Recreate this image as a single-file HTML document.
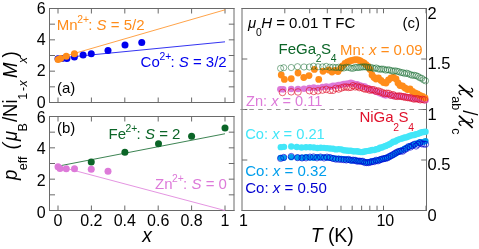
<!DOCTYPE html>
<html><head><meta charset="utf-8"><title>fig</title>
<style>html,body{margin:0;padding:0;background:#fff;}svg{display:block;will-change:transform;}text{font-family:"Liberation Sans",sans-serif;}</style>
</head><body>
<svg width="479" height="249" viewBox="0 0 479 249">
<rect x="0" y="0" width="479" height="249" fill="#fff"/>
<line x1="49.50" y1="8.00" x2="49.50" y2="103.00" stroke="#6a6a6a" stroke-width="1"/>
<line x1="234.00" y1="8.00" x2="234.00" y2="103.00" stroke="#6a6a6a" stroke-width="1"/>
<line x1="49.00" y1="8.50" x2="234.50" y2="8.50" stroke="#6a6a6a" stroke-width="1"/>
<line x1="49.00" y1="102.50" x2="234.50" y2="102.50" stroke="#6a6a6a" stroke-width="1"/>
<line x1="58.00" y1="8.50" x2="58.00" y2="13.50" stroke="#6a6a6a" stroke-width="1"/>
<line x1="58.00" y1="102.50" x2="58.00" y2="97.50" stroke="#6a6a6a" stroke-width="1"/>
<line x1="91.40" y1="8.50" x2="91.40" y2="13.50" stroke="#6a6a6a" stroke-width="1"/>
<line x1="91.40" y1="102.50" x2="91.40" y2="97.50" stroke="#6a6a6a" stroke-width="1"/>
<line x1="124.80" y1="8.50" x2="124.80" y2="13.50" stroke="#6a6a6a" stroke-width="1"/>
<line x1="124.80" y1="102.50" x2="124.80" y2="97.50" stroke="#6a6a6a" stroke-width="1"/>
<line x1="158.20" y1="8.50" x2="158.20" y2="13.50" stroke="#6a6a6a" stroke-width="1"/>
<line x1="158.20" y1="102.50" x2="158.20" y2="97.50" stroke="#6a6a6a" stroke-width="1"/>
<line x1="191.60" y1="8.50" x2="191.60" y2="13.50" stroke="#6a6a6a" stroke-width="1"/>
<line x1="191.60" y1="102.50" x2="191.60" y2="97.50" stroke="#6a6a6a" stroke-width="1"/>
<line x1="225.00" y1="8.50" x2="225.00" y2="13.50" stroke="#6a6a6a" stroke-width="1"/>
<line x1="225.00" y1="102.50" x2="225.00" y2="97.50" stroke="#6a6a6a" stroke-width="1"/>
<line x1="49.50" y1="86.83" x2="55.00" y2="86.83" stroke="#6a6a6a" stroke-width="1"/>
<line x1="234.20" y1="86.83" x2="228.80" y2="86.83" stroke="#6a6a6a" stroke-width="1"/>
<line x1="49.50" y1="71.17" x2="55.00" y2="71.17" stroke="#6a6a6a" stroke-width="1"/>
<line x1="234.20" y1="71.17" x2="228.80" y2="71.17" stroke="#6a6a6a" stroke-width="1"/>
<line x1="49.50" y1="55.50" x2="55.00" y2="55.50" stroke="#6a6a6a" stroke-width="1"/>
<line x1="234.20" y1="55.50" x2="228.80" y2="55.50" stroke="#6a6a6a" stroke-width="1"/>
<line x1="49.50" y1="39.83" x2="55.00" y2="39.83" stroke="#6a6a6a" stroke-width="1"/>
<line x1="234.20" y1="39.83" x2="228.80" y2="39.83" stroke="#6a6a6a" stroke-width="1"/>
<line x1="49.50" y1="24.17" x2="55.00" y2="24.17" stroke="#6a6a6a" stroke-width="1"/>
<line x1="234.20" y1="24.17" x2="228.80" y2="24.17" stroke="#6a6a6a" stroke-width="1"/>
<line x1="49.50" y1="116.00" x2="49.50" y2="211.00" stroke="#6a6a6a" stroke-width="1"/>
<line x1="234.00" y1="116.00" x2="234.00" y2="211.00" stroke="#6a6a6a" stroke-width="1"/>
<line x1="49.00" y1="116.50" x2="234.50" y2="116.50" stroke="#6a6a6a" stroke-width="1"/>
<line x1="49.00" y1="210.50" x2="234.50" y2="210.50" stroke="#6a6a6a" stroke-width="1"/>
<line x1="58.00" y1="116.50" x2="58.00" y2="121.50" stroke="#6a6a6a" stroke-width="1"/>
<line x1="58.00" y1="210.50" x2="58.00" y2="205.50" stroke="#6a6a6a" stroke-width="1"/>
<line x1="91.40" y1="116.50" x2="91.40" y2="121.50" stroke="#6a6a6a" stroke-width="1"/>
<line x1="91.40" y1="210.50" x2="91.40" y2="205.50" stroke="#6a6a6a" stroke-width="1"/>
<line x1="124.80" y1="116.50" x2="124.80" y2="121.50" stroke="#6a6a6a" stroke-width="1"/>
<line x1="124.80" y1="210.50" x2="124.80" y2="205.50" stroke="#6a6a6a" stroke-width="1"/>
<line x1="158.20" y1="116.50" x2="158.20" y2="121.50" stroke="#6a6a6a" stroke-width="1"/>
<line x1="158.20" y1="210.50" x2="158.20" y2="205.50" stroke="#6a6a6a" stroke-width="1"/>
<line x1="191.60" y1="116.50" x2="191.60" y2="121.50" stroke="#6a6a6a" stroke-width="1"/>
<line x1="191.60" y1="210.50" x2="191.60" y2="205.50" stroke="#6a6a6a" stroke-width="1"/>
<line x1="225.00" y1="116.50" x2="225.00" y2="121.50" stroke="#6a6a6a" stroke-width="1"/>
<line x1="225.00" y1="210.50" x2="225.00" y2="205.50" stroke="#6a6a6a" stroke-width="1"/>
<line x1="49.50" y1="194.83" x2="55.00" y2="194.83" stroke="#6a6a6a" stroke-width="1"/>
<line x1="234.20" y1="194.83" x2="228.80" y2="194.83" stroke="#6a6a6a" stroke-width="1"/>
<line x1="49.50" y1="179.17" x2="55.00" y2="179.17" stroke="#6a6a6a" stroke-width="1"/>
<line x1="234.20" y1="179.17" x2="228.80" y2="179.17" stroke="#6a6a6a" stroke-width="1"/>
<line x1="49.50" y1="163.50" x2="55.00" y2="163.50" stroke="#6a6a6a" stroke-width="1"/>
<line x1="234.20" y1="163.50" x2="228.80" y2="163.50" stroke="#6a6a6a" stroke-width="1"/>
<line x1="49.50" y1="147.83" x2="55.00" y2="147.83" stroke="#6a6a6a" stroke-width="1"/>
<line x1="234.20" y1="147.83" x2="228.80" y2="147.83" stroke="#6a6a6a" stroke-width="1"/>
<line x1="49.50" y1="132.17" x2="55.00" y2="132.17" stroke="#6a6a6a" stroke-width="1"/>
<line x1="234.20" y1="132.17" x2="228.80" y2="132.17" stroke="#6a6a6a" stroke-width="1"/>
<text x="45.7" y="107.6" font-size="16" fill="#000" text-anchor="end" >0</text>
<text x="45.7" y="76.26666666666667" font-size="16" fill="#000" text-anchor="end" >2</text>
<text x="45.7" y="44.93333333333334" font-size="16" fill="#000" text-anchor="end" >4</text>
<text x="45.7" y="13.6" font-size="16" fill="#000" text-anchor="end" >6</text>
<text x="45.7" y="217.9" font-size="16" fill="#000" text-anchor="end" >0</text>
<text x="45.7" y="185.96666666666664" font-size="16" fill="#000" text-anchor="end" >2</text>
<text x="45.7" y="153.93333333333334" font-size="16" fill="#000" text-anchor="end" >4</text>
<text x="45.7" y="122.6" font-size="16" fill="#000" text-anchor="end" >6</text>
<text x="58.0" y="226" font-size="16" fill="#000" text-anchor="middle" >0</text>
<text x="91.4" y="226" font-size="16" fill="#000" text-anchor="middle" >0.2</text>
<text x="124.8" y="226" font-size="16" fill="#000" text-anchor="middle" >0.4</text>
<text x="158.20000000000002" y="226" font-size="16" fill="#000" text-anchor="middle" >0.6</text>
<text x="191.6" y="226" font-size="16" fill="#000" text-anchor="middle" >0.8</text>
<text x="225.0" y="226" font-size="16" fill="#000" text-anchor="middle" >1</text>
<text x="147.1" y="242.1" font-size="19.3" fill="#000" text-anchor="middle" font-style="italic">x</text>
<line x1="58.00" y1="58.16" x2="225.00" y2="9.82" stroke="#FF8C1A" stroke-width="0.8"/>
<line x1="58.00" y1="58.16" x2="225.00" y2="41.82" stroke="#0000EE" stroke-width="0.8"/>
<line x1="58.00" y1="166.16" x2="225.00" y2="133.75" stroke="#0B6527" stroke-width="0.8"/>
<line x1="58.00" y1="166.16" x2="225.00" y2="210.50" stroke="#DD7AD9" stroke-width="0.8"/>
<circle cx="58.00" cy="58.75" r="3.5" fill="#0000EE"/>
<circle cx="62.00" cy="58.60" r="3.5" fill="#0000EE"/>
<circle cx="66.90" cy="58.50" r="3.5" fill="#0000EE"/>
<circle cx="74.40" cy="56.90" r="3.5" fill="#0000EE"/>
<circle cx="83.10" cy="55.00" r="3.5" fill="#0000EE"/>
<circle cx="91.25" cy="53.75" r="3.5" fill="#0000EE"/>
<circle cx="108.00" cy="50.50" r="3.5" fill="#0000EE"/>
<circle cx="125.00" cy="45.00" r="3.5" fill="#0000EE"/>
<circle cx="141.75" cy="42.50" r="3.5" fill="#0000EE"/>
<circle cx="58.10" cy="59.40" r="3.5" fill="#FF8C1A"/>
<circle cx="60.60" cy="58.50" r="3.5" fill="#FF8C1A"/>
<circle cx="66.25" cy="56.25" r="3.5" fill="#FF8C1A"/>
<circle cx="74.40" cy="53.75" r="3.5" fill="#FF8C1A"/>
<circle cx="91.25" cy="162.00" r="3.5" fill="#0B6527"/>
<circle cx="124.90" cy="152.20" r="3.5" fill="#0B6527"/>
<circle cx="158.50" cy="143.80" r="3.5" fill="#0B6527"/>
<circle cx="191.60" cy="136.20" r="3.5" fill="#0B6527"/>
<circle cx="225.00" cy="127.90" r="3.5" fill="#0B6527"/>
<circle cx="58.00" cy="166.75" r="3.5" fill="#DD7AD9"/>
<circle cx="60.00" cy="168.50" r="3.5" fill="#DD7AD9"/>
<circle cx="66.25" cy="168.75" r="3.5" fill="#DD7AD9"/>
<circle cx="74.50" cy="168.75" r="3.5" fill="#DD7AD9"/>
<circle cx="91.25" cy="169.25" r="3.5" fill="#DD7AD9"/>
<circle cx="108.00" cy="171.25" r="3.5" fill="#DD7AD9"/>
<text x="56.8" y="30" font-size="15" fill="#FF8C1A" xml:space="preserve"><tspan>Mn</tspan><tspan dy="-7" dx="-0.4" font-size="10.35">2+</tspan><tspan dy="7" dx="-0.8" font-size="1">&#8203;</tspan><tspan>: </tspan><tspan font-style="italic">S</tspan><tspan> = 5/2</tspan></text>
<text x="140.6" y="67" font-size="15" fill="#0000EE" xml:space="preserve"><tspan>Co</tspan><tspan dy="-7" dx="-0.4" font-size="10.35">2+</tspan><tspan dy="7" dx="-0.8" font-size="1">&#8203;</tspan><tspan>: </tspan><tspan font-style="italic">S</tspan><tspan> = 3/2</tspan></text>
<text x="108.5" y="139.4" font-size="15" fill="#0B6527" xml:space="preserve"><tspan>Fe</tspan><tspan dy="-7" dx="-0.4" font-size="10.35">2+</tspan><tspan dy="7" dx="-0.8" font-size="1">&#8203;</tspan><tspan>: </tspan><tspan font-style="italic">S</tspan><tspan> = 2</tspan></text>
<text x="155" y="189.2" font-size="15" fill="#DD7AD9" xml:space="preserve"><tspan>Zn</tspan><tspan dy="-7" dx="-0.4" font-size="10.35">2+</tspan><tspan dy="7" dx="-0.8" font-size="1">&#8203;</tspan><tspan>: </tspan><tspan font-style="italic">S</tspan><tspan> = 0</tspan></text>
<text x="57" y="92.5" font-size="15" fill="#000" text-anchor="start" >(a)</text>
<text x="57" y="133" font-size="15" fill="#000" text-anchor="start" >(b)</text>
<g transform="translate(16.6,181) rotate(-90)"><text transform="translate(0.89,0) scale(0.96,1)" font-size="19.3" font-style="italic">p</text><text transform="translate(10.75,10.2) scale(1.0,1)" font-size="12.5">eff</text><text transform="translate(31.70,0) scale(0.96,1)" font-size="19.3" font-style="italic">(</text><text transform="translate(40.02,0) scale(0.96,1)" font-size="19.3" font-style="italic">μ</text><text transform="translate(49.58,10.2) scale(1.0,1)" font-size="12.5">B</text><text transform="translate(58.98,0) scale(0.96,1)" font-size="19.3">/</text><text transform="translate(63.93,0) scale(0.96,1)" font-size="19.3">N</text><text transform="translate(77.44,0) scale(0.96,1)" font-size="19.3">i</text><text transform="translate(81.35,10.2) scale(1.0,1)" font-size="12.5">1</text><text transform="translate(89.92,10.2) scale(1.0,1)" font-size="12.5">-</text><text transform="translate(94.45,10.2) scale(1.0,1)" font-size="12.5" font-style="italic">x</text><text transform="translate(103.01,0) scale(0.96,1)" font-size="19.3" font-style="italic">M</text><text transform="translate(117.70,10.2) scale(1.0,1)" font-size="12.5" font-style="italic">x</text><text transform="translate(123.46,0) scale(0.96,1)" font-size="19.3">)</text></g>
<line x1="242.00" y1="8.00" x2="242.00" y2="211.00" stroke="#6a6a6a" stroke-width="1"/>
<line x1="426.50" y1="8.00" x2="426.50" y2="211.00" stroke="#6a6a6a" stroke-width="1"/>
<line x1="241.50" y1="8.50" x2="427.00" y2="8.50" stroke="#6a6a6a" stroke-width="1"/>
<line x1="241.50" y1="210.50" x2="427.00" y2="210.50" stroke="#6a6a6a" stroke-width="1"/>
<line x1="284.81" y1="8.50" x2="284.81" y2="13.30" stroke="#6a6a6a" stroke-width="1"/>
<line x1="284.81" y1="210.50" x2="284.81" y2="205.70" stroke="#6a6a6a" stroke-width="1"/>
<line x1="309.67" y1="8.50" x2="309.67" y2="13.30" stroke="#6a6a6a" stroke-width="1"/>
<line x1="309.67" y1="210.50" x2="309.67" y2="205.70" stroke="#6a6a6a" stroke-width="1"/>
<line x1="327.31" y1="8.50" x2="327.31" y2="13.30" stroke="#6a6a6a" stroke-width="1"/>
<line x1="327.31" y1="210.50" x2="327.31" y2="205.70" stroke="#6a6a6a" stroke-width="1"/>
<line x1="340.99" y1="8.50" x2="340.99" y2="13.30" stroke="#6a6a6a" stroke-width="1"/>
<line x1="340.99" y1="210.50" x2="340.99" y2="205.70" stroke="#6a6a6a" stroke-width="1"/>
<line x1="352.17" y1="8.50" x2="352.17" y2="13.30" stroke="#6a6a6a" stroke-width="1"/>
<line x1="352.17" y1="210.50" x2="352.17" y2="205.70" stroke="#6a6a6a" stroke-width="1"/>
<line x1="361.63" y1="8.50" x2="361.63" y2="13.30" stroke="#6a6a6a" stroke-width="1"/>
<line x1="361.63" y1="210.50" x2="361.63" y2="205.70" stroke="#6a6a6a" stroke-width="1"/>
<line x1="369.82" y1="8.50" x2="369.82" y2="13.30" stroke="#6a6a6a" stroke-width="1"/>
<line x1="369.82" y1="210.50" x2="369.82" y2="205.70" stroke="#6a6a6a" stroke-width="1"/>
<line x1="377.04" y1="8.50" x2="377.04" y2="13.30" stroke="#6a6a6a" stroke-width="1"/>
<line x1="377.04" y1="210.50" x2="377.04" y2="205.70" stroke="#6a6a6a" stroke-width="1"/>
<line x1="426.01" y1="8.50" x2="426.01" y2="13.30" stroke="#6a6a6a" stroke-width="1"/>
<line x1="426.01" y1="210.50" x2="426.01" y2="205.70" stroke="#6a6a6a" stroke-width="1"/>
<line x1="383.50" y1="8.50" x2="383.50" y2="13.30" stroke="#6a6a6a" stroke-width="1"/>
<line x1="383.50" y1="210.50" x2="383.50" y2="205.70" stroke="#6a6a6a" stroke-width="1"/>
<line x1="242.00" y1="160.00" x2="247.30" y2="160.00" stroke="#6a6a6a" stroke-width="1"/>
<line x1="426.50" y1="160.00" x2="421.20" y2="160.00" stroke="#6a6a6a" stroke-width="1"/>
<line x1="242.00" y1="109.50" x2="247.30" y2="109.50" stroke="#6a6a6a" stroke-width="1"/>
<line x1="426.50" y1="109.50" x2="421.20" y2="109.50" stroke="#6a6a6a" stroke-width="1"/>
<line x1="242.00" y1="59.00" x2="247.30" y2="59.00" stroke="#6a6a6a" stroke-width="1"/>
<line x1="426.50" y1="59.00" x2="421.20" y2="59.00" stroke="#6a6a6a" stroke-width="1"/>
<line x1="240.4" y1="109.50" x2="426.5" y2="109.50" stroke="#8a8a8a" stroke-width="0.9" stroke-dasharray="4.5,4.4"/>
<text x="427.6" y="220.7" font-size="16.5" fill="#000" text-anchor="start" >0</text>
<text x="427.6" y="170.2" font-size="16.5" fill="#000" text-anchor="start" >0.5</text>
<text x="427.6" y="119.7" font-size="16.5" fill="#000" text-anchor="start" >1</text>
<text x="427.6" y="69.2" font-size="16.5" fill="#000" text-anchor="start" >1.5</text>
<text x="427.6" y="18.7" font-size="16.5" fill="#000" text-anchor="start" >2</text>
<text x="243.4" y="225.6" font-size="16" fill="#000" text-anchor="middle" >1</text>
<text x="385.3" y="225.6" font-size="16" fill="#000" text-anchor="middle" >10</text>
<text x="332.2" y="241.9" font-size="19.4" text-anchor="middle" xml:space="preserve"><tspan font-style="italic">T</tspan> (K)</text>
<g transform="translate(462.5,84.4) rotate(90)"><text transform="translate(11.92,10.1) scale(1.0,1)" font-size="12.5">ab</text><text transform="translate(25.75,0) scale(1.0,1)" font-size="19.3">/</text><text transform="translate(43.75,10.1) scale(1.0,1)" font-size="12.5">c</text></g>
<g transform="translate(0,0)" fill="none" stroke="#000" stroke-linecap="butt"><path d="M458.9,84.9 L472.6,97.1" stroke-width="1.7"/><path d="M471.1,88.0 C472.6,88.6 473.2,90.6 472.3,91.6 C471.4,92.6 470.2,92.3 468.9,91.8 C466.5,90.9 463.0,90.3 461.0,90.5 C459.0,90.8 458.6,92.2 459.4,93.4 C459.9,94.2 460.6,94.6 461.3,94.9" stroke-width="1.15"/></g>
<g transform="translate(0,30.7)" fill="none" stroke="#000" stroke-linecap="butt"><path d="M458.9,84.9 L472.6,97.1" stroke-width="1.7"/><path d="M471.1,88.0 C472.6,88.6 473.2,90.6 472.3,91.6 C471.4,92.6 470.2,92.3 468.9,91.8 C466.5,90.9 463.0,90.3 461.0,90.5 C459.0,90.8 458.6,92.2 459.4,93.4 C459.9,94.2 460.6,94.6 461.3,94.9" stroke-width="1.15"/></g>
<circle cx="280.40" cy="89.18" r="3.3" fill="#DD7AD9"/>
<circle cx="283.20" cy="89.36" r="3.3" fill="#DD7AD9"/>
<circle cx="291.25" cy="89.01" r="3.3" fill="#DD7AD9"/>
<circle cx="298.00" cy="89.03" r="3.3" fill="#DD7AD9"/>
<circle cx="304.00" cy="88.74" r="3.3" fill="#DD7AD9"/>
<circle cx="309.40" cy="87.94" r="3.3" fill="#DD7AD9"/>
<circle cx="313.75" cy="87.62" r="3.3" fill="#DD7AD9"/>
<circle cx="318.00" cy="88.00" r="3.3" fill="#DD7AD9"/>
<circle cx="322.50" cy="87.08" r="3.3" fill="#DD7AD9"/>
<circle cx="326.25" cy="86.57" r="3.3" fill="#DD7AD9"/>
<circle cx="330.00" cy="86.70" r="3.3" fill="#DD7AD9"/>
<circle cx="333.00" cy="85.89" r="3.3" fill="#DD7AD9"/>
<circle cx="335.88" cy="85.80" r="3.3" fill="#DD7AD9"/>
<circle cx="338.64" cy="85.16" r="3.3" fill="#DD7AD9"/>
<circle cx="341.30" cy="84.85" r="3.3" fill="#DD7AD9"/>
<circle cx="343.85" cy="83.95" r="3.3" fill="#DD7AD9"/>
<circle cx="346.29" cy="83.85" r="3.3" fill="#DD7AD9"/>
<circle cx="348.64" cy="83.57" r="3.3" fill="#DD7AD9"/>
<circle cx="350.90" cy="82.84" r="3.3" fill="#DD7AD9"/>
<circle cx="353.06" cy="83.61" r="3.3" fill="#DD7AD9"/>
<circle cx="355.14" cy="84.18" r="3.3" fill="#DD7AD9"/>
<circle cx="357.13" cy="84.29" r="3.3" fill="#DD7AD9"/>
<circle cx="359.05" cy="85.42" r="3.3" fill="#DD7AD9"/>
<circle cx="360.95" cy="85.86" r="3.3" fill="#DD7AD9"/>
<circle cx="362.85" cy="86.20" r="3.3" fill="#DD7AD9"/>
<circle cx="364.75" cy="86.55" r="3.3" fill="#DD7AD9"/>
<circle cx="366.65" cy="87.95" r="3.3" fill="#DD7AD9"/>
<circle cx="368.55" cy="88.40" r="3.3" fill="#DD7AD9"/>
<circle cx="370.45" cy="89.35" r="3.3" fill="#DD7AD9"/>
<circle cx="372.35" cy="90.24" r="3.3" fill="#DD7AD9"/>
<circle cx="374.25" cy="90.87" r="3.3" fill="#DD7AD9"/>
<circle cx="376.15" cy="91.80" r="3.3" fill="#DD7AD9"/>
<circle cx="378.05" cy="92.13" r="3.3" fill="#DD7AD9"/>
<circle cx="379.95" cy="93.22" r="3.3" fill="#DD7AD9"/>
<circle cx="381.85" cy="93.69" r="3.3" fill="#DD7AD9"/>
<circle cx="383.75" cy="94.85" r="3.3" fill="#DD7AD9"/>
<circle cx="385.65" cy="95.36" r="3.3" fill="#DD7AD9"/>
<circle cx="387.55" cy="94.91" r="3.3" fill="#DD7AD9"/>
<circle cx="389.45" cy="95.11" r="3.3" fill="#DD7AD9"/>
<circle cx="391.35" cy="95.35" r="3.3" fill="#DD7AD9"/>
<circle cx="393.25" cy="96.12" r="3.3" fill="#DD7AD9"/>
<circle cx="395.15" cy="95.87" r="3.3" fill="#DD7AD9"/>
<circle cx="397.05" cy="96.20" r="3.3" fill="#DD7AD9"/>
<circle cx="398.95" cy="96.11" r="3.3" fill="#DD7AD9"/>
<circle cx="400.85" cy="96.45" r="3.3" fill="#DD7AD9"/>
<circle cx="402.75" cy="96.52" r="3.3" fill="#DD7AD9"/>
<circle cx="404.65" cy="96.67" r="3.3" fill="#DD7AD9"/>
<circle cx="406.55" cy="97.03" r="3.3" fill="#DD7AD9"/>
<circle cx="408.45" cy="97.30" r="3.3" fill="#DD7AD9"/>
<circle cx="410.35" cy="97.85" r="3.3" fill="#DD7AD9"/>
<circle cx="412.25" cy="97.97" r="3.3" fill="#DD7AD9"/>
<circle cx="414.15" cy="98.47" r="3.3" fill="#DD7AD9"/>
<circle cx="416.05" cy="98.71" r="3.3" fill="#DD7AD9"/>
<circle cx="417.95" cy="99.12" r="3.3" fill="#DD7AD9"/>
<circle cx="419.85" cy="99.17" r="3.3" fill="#DD7AD9"/>
<circle cx="421.75" cy="99.06" r="3.3" fill="#DD7AD9"/>
<circle cx="423.65" cy="99.92" r="3.3" fill="#DD7AD9"/>
<circle cx="425.55" cy="100.30" r="3.3" fill="#DD7AD9"/>
<circle cx="281.25" cy="75.00" r="3.4" fill="#FF8C1A"/>
<circle cx="284.40" cy="79.40" r="3.4" fill="#FF8C1A"/>
<circle cx="291.25" cy="78.75" r="3.4" fill="#FF8C1A"/>
<circle cx="298.00" cy="73.00" r="3.4" fill="#FF8C1A"/>
<circle cx="303.75" cy="77.50" r="3.4" fill="#FF8C1A"/>
<circle cx="309.00" cy="75.60" r="3.4" fill="#FF8C1A"/>
<circle cx="314.40" cy="69.40" r="3.4" fill="#FF8C1A"/>
<circle cx="318.75" cy="79.40" r="3.4" fill="#FF8C1A"/>
<circle cx="323.00" cy="71.25" r="3.4" fill="#FF8C1A"/>
<circle cx="328.75" cy="70.00" r="3.4" fill="#FF8C1A"/>
<circle cx="332.00" cy="72.00" r="3.4" fill="#FF8C1A"/>
<circle cx="335.00" cy="70.50" r="3.4" fill="#FF8C1A"/>
<circle cx="338.00" cy="71.50" r="3.4" fill="#FF8C1A"/>
<circle cx="340.50" cy="68.50" r="3.4" fill="#FF8C1A"/>
<circle cx="342.50" cy="66.00" r="3.4" fill="#FF8C1A"/>
<circle cx="345.00" cy="63.50" r="3.4" fill="#FF8C1A"/>
<circle cx="347.50" cy="62.00" r="3.4" fill="#FF8C1A"/>
<circle cx="350.00" cy="61.00" r="3.4" fill="#FF8C1A"/>
<circle cx="352.00" cy="60.30" r="3.4" fill="#FF8C1A"/>
<circle cx="354.00" cy="59.90" r="3.4" fill="#FF8C1A"/>
<circle cx="356.00" cy="59.70" r="3.4" fill="#FF8C1A"/>
<circle cx="358.00" cy="60.00" r="3.4" fill="#FF8C1A"/>
<circle cx="360.00" cy="60.70" r="3.4" fill="#FF8C1A"/>
<circle cx="362.00" cy="61.80" r="3.4" fill="#FF8C1A"/>
<circle cx="364.00" cy="63.00" r="3.4" fill="#FF8C1A"/>
<circle cx="366.00" cy="64.60" r="3.4" fill="#FF8C1A"/>
<circle cx="368.00" cy="66.50" r="3.4" fill="#FF8C1A"/>
<circle cx="370.00" cy="69.50" r="3.4" fill="#FF8C1A"/>
<circle cx="372.00" cy="75.00" r="3.4" fill="#FF8C1A"/>
<circle cx="374.00" cy="77.50" r="3.4" fill="#FF8C1A"/>
<circle cx="376.00" cy="79.00" r="3.4" fill="#FF8C1A"/>
<circle cx="378.50" cy="78.00" r="3.4" fill="#FF8C1A"/>
<circle cx="381.00" cy="80.50" r="3.4" fill="#FF8C1A"/>
<circle cx="383.50" cy="82.50" r="3.4" fill="#FF8C1A"/>
<circle cx="386.00" cy="83.00" r="3.4" fill="#FF8C1A"/>
<circle cx="388.50" cy="80.00" r="3.4" fill="#FF8C1A"/>
<circle cx="391.00" cy="78.00" r="3.4" fill="#FF8C1A"/>
<circle cx="393.50" cy="77.50" r="3.4" fill="#FF8C1A"/>
<circle cx="396.00" cy="79.00" r="3.4" fill="#FF8C1A"/>
<circle cx="398.00" cy="83.00" r="3.4" fill="#FF8C1A"/>
<circle cx="400.00" cy="85.50" r="3.4" fill="#FF8C1A"/>
<circle cx="402.50" cy="86.00" r="3.4" fill="#FF8C1A"/>
<circle cx="405.00" cy="88.00" r="3.4" fill="#FF8C1A"/>
<circle cx="407.50" cy="89.50" r="3.4" fill="#FF8C1A"/>
<circle cx="410.00" cy="89.00" r="3.4" fill="#FF8C1A"/>
<circle cx="412.50" cy="91.50" r="3.4" fill="#FF8C1A"/>
<circle cx="415.00" cy="93.00" r="3.4" fill="#FF8C1A"/>
<circle cx="417.50" cy="94.00" r="3.4" fill="#FF8C1A"/>
<circle cx="420.00" cy="95.50" r="3.4" fill="#FF8C1A"/>
<circle cx="422.50" cy="96.50" r="3.4" fill="#FF8C1A"/>
<circle cx="425.00" cy="98.00" r="3.4" fill="#FF8C1A"/>
<circle cx="282.50" cy="92.44" r="3.3" fill="none" stroke="#E0102A" stroke-width="0.65"/>
<circle cx="291.25" cy="91.81" r="3.3" fill="none" stroke="#E0102A" stroke-width="0.65"/>
<circle cx="298.00" cy="91.96" r="3.3" fill="none" stroke="#E0102A" stroke-width="0.65"/>
<circle cx="309.40" cy="90.67" r="3.3" fill="none" stroke="#E0102A" stroke-width="0.65"/>
<circle cx="313.75" cy="91.44" r="3.3" fill="none" stroke="#E0102A" stroke-width="0.65"/>
<circle cx="318.00" cy="90.82" r="3.3" fill="none" stroke="#E0102A" stroke-width="0.65"/>
<circle cx="322.50" cy="90.04" r="3.3" fill="none" stroke="#E0102A" stroke-width="0.65"/>
<circle cx="326.25" cy="89.37" r="3.3" fill="none" stroke="#E0102A" stroke-width="0.65"/>
<circle cx="330.00" cy="90.32" r="3.3" fill="none" stroke="#E0102A" stroke-width="0.65"/>
<circle cx="333.00" cy="90.28" r="3.3" fill="none" stroke="#E0102A" stroke-width="0.65"/>
<circle cx="335.88" cy="88.36" r="3.3" fill="none" stroke="#E0102A" stroke-width="0.65"/>
<circle cx="338.64" cy="89.04" r="3.3" fill="none" stroke="#E0102A" stroke-width="0.65"/>
<circle cx="341.30" cy="87.97" r="3.3" fill="none" stroke="#E0102A" stroke-width="0.65"/>
<circle cx="343.85" cy="87.13" r="3.3" fill="none" stroke="#E0102A" stroke-width="0.65"/>
<circle cx="346.29" cy="86.99" r="3.3" fill="none" stroke="#E0102A" stroke-width="0.65"/>
<circle cx="348.64" cy="87.43" r="3.3" fill="none" stroke="#E0102A" stroke-width="0.65"/>
<circle cx="350.90" cy="87.29" r="3.3" fill="none" stroke="#E0102A" stroke-width="0.65"/>
<circle cx="353.06" cy="85.68" r="3.3" fill="none" stroke="#E0102A" stroke-width="0.65"/>
<circle cx="355.16" cy="86.87" r="3.3" fill="none" stroke="#E0102A" stroke-width="0.65"/>
<circle cx="357.26" cy="86.24" r="3.3" fill="none" stroke="#E0102A" stroke-width="0.65"/>
<circle cx="359.36" cy="87.60" r="3.3" fill="none" stroke="#E0102A" stroke-width="0.65"/>
<circle cx="361.46" cy="87.26" r="3.3" fill="none" stroke="#E0102A" stroke-width="0.65"/>
<circle cx="363.56" cy="88.56" r="3.3" fill="none" stroke="#E0102A" stroke-width="0.65"/>
<circle cx="365.66" cy="89.19" r="3.3" fill="none" stroke="#E0102A" stroke-width="0.65"/>
<circle cx="367.76" cy="88.90" r="3.3" fill="none" stroke="#E0102A" stroke-width="0.65"/>
<circle cx="369.86" cy="90.17" r="3.3" fill="none" stroke="#E0102A" stroke-width="0.65"/>
<circle cx="371.96" cy="89.63" r="3.3" fill="none" stroke="#E0102A" stroke-width="0.65"/>
<circle cx="374.06" cy="89.83" r="3.3" fill="none" stroke="#E0102A" stroke-width="0.65"/>
<circle cx="376.16" cy="91.24" r="3.3" fill="none" stroke="#E0102A" stroke-width="0.65"/>
<circle cx="378.26" cy="90.91" r="3.3" fill="none" stroke="#E0102A" stroke-width="0.65"/>
<circle cx="380.36" cy="91.75" r="3.3" fill="none" stroke="#E0102A" stroke-width="0.65"/>
<circle cx="382.46" cy="92.66" r="3.3" fill="none" stroke="#E0102A" stroke-width="0.65"/>
<circle cx="384.56" cy="93.56" r="3.3" fill="none" stroke="#E0102A" stroke-width="0.65"/>
<circle cx="386.66" cy="93.25" r="3.3" fill="none" stroke="#E0102A" stroke-width="0.65"/>
<circle cx="388.76" cy="93.46" r="3.3" fill="none" stroke="#E0102A" stroke-width="0.65"/>
<circle cx="390.86" cy="95.16" r="3.3" fill="none" stroke="#E0102A" stroke-width="0.65"/>
<circle cx="392.96" cy="94.66" r="3.3" fill="none" stroke="#E0102A" stroke-width="0.65"/>
<circle cx="395.06" cy="96.08" r="3.3" fill="none" stroke="#E0102A" stroke-width="0.65"/>
<circle cx="397.16" cy="96.36" r="3.3" fill="none" stroke="#E0102A" stroke-width="0.65"/>
<circle cx="399.26" cy="95.92" r="3.3" fill="none" stroke="#E0102A" stroke-width="0.65"/>
<circle cx="401.36" cy="96.39" r="3.3" fill="none" stroke="#E0102A" stroke-width="0.65"/>
<circle cx="403.46" cy="96.80" r="3.3" fill="none" stroke="#E0102A" stroke-width="0.65"/>
<circle cx="405.56" cy="97.31" r="3.3" fill="none" stroke="#E0102A" stroke-width="0.65"/>
<circle cx="407.66" cy="97.55" r="3.3" fill="none" stroke="#E0102A" stroke-width="0.65"/>
<circle cx="409.76" cy="97.81" r="3.3" fill="none" stroke="#E0102A" stroke-width="0.65"/>
<circle cx="411.86" cy="98.22" r="3.3" fill="none" stroke="#E0102A" stroke-width="0.65"/>
<circle cx="413.96" cy="99.05" r="3.3" fill="none" stroke="#E0102A" stroke-width="0.65"/>
<circle cx="416.06" cy="98.70" r="3.3" fill="none" stroke="#E0102A" stroke-width="0.65"/>
<circle cx="418.16" cy="98.94" r="3.3" fill="none" stroke="#E0102A" stroke-width="0.65"/>
<circle cx="420.26" cy="99.77" r="3.3" fill="none" stroke="#E0102A" stroke-width="0.65"/>
<circle cx="422.36" cy="99.37" r="3.3" fill="none" stroke="#E0102A" stroke-width="0.65"/>
<circle cx="424.46" cy="99.84" r="3.3" fill="none" stroke="#E0102A" stroke-width="0.65"/>
<circle cx="280.60" cy="68.36" r="3.1" fill="none" stroke="#0B6527" stroke-width="0.5"/>
<circle cx="283.75" cy="67.71" r="3.1" fill="none" stroke="#0B6527" stroke-width="0.5"/>
<circle cx="291.25" cy="67.52" r="3.1" fill="none" stroke="#0B6527" stroke-width="0.5"/>
<circle cx="297.50" cy="66.69" r="3.1" fill="none" stroke="#0B6527" stroke-width="0.5"/>
<circle cx="304.00" cy="66.98" r="3.1" fill="none" stroke="#0B6527" stroke-width="0.5"/>
<circle cx="309.40" cy="67.01" r="3.1" fill="none" stroke="#0B6527" stroke-width="0.5"/>
<circle cx="313.50" cy="66.22" r="3.1" fill="none" stroke="#0B6527" stroke-width="0.5"/>
<circle cx="318.00" cy="66.80" r="3.1" fill="none" stroke="#0B6527" stroke-width="0.5"/>
<circle cx="322.50" cy="66.88" r="3.1" fill="none" stroke="#0B6527" stroke-width="0.5"/>
<circle cx="326.20" cy="66.36" r="3.1" fill="none" stroke="#0B6527" stroke-width="0.5"/>
<circle cx="329.80" cy="67.21" r="3.1" fill="none" stroke="#0B6527" stroke-width="0.5"/>
<circle cx="333.00" cy="67.17" r="3.1" fill="none" stroke="#0B6527" stroke-width="0.5"/>
<circle cx="335.88" cy="67.56" r="3.1" fill="none" stroke="#0B6527" stroke-width="0.5"/>
<circle cx="338.64" cy="67.29" r="3.1" fill="none" stroke="#0B6527" stroke-width="0.5"/>
<circle cx="341.30" cy="67.84" r="3.1" fill="none" stroke="#0B6527" stroke-width="0.5"/>
<circle cx="343.85" cy="68.00" r="3.1" fill="none" stroke="#0B6527" stroke-width="0.5"/>
<circle cx="346.29" cy="67.25" r="3.1" fill="none" stroke="#0B6527" stroke-width="0.5"/>
<circle cx="348.64" cy="67.41" r="3.1" fill="none" stroke="#0B6527" stroke-width="0.5"/>
<circle cx="350.90" cy="68.15" r="3.1" fill="none" stroke="#0B6527" stroke-width="0.5"/>
<circle cx="353.06" cy="68.35" r="3.1" fill="none" stroke="#0B6527" stroke-width="0.5"/>
<circle cx="355.14" cy="67.36" r="3.1" fill="none" stroke="#0B6527" stroke-width="0.5"/>
<circle cx="357.13" cy="67.47" r="3.1" fill="none" stroke="#0B6527" stroke-width="0.5"/>
<circle cx="359.05" cy="67.51" r="3.1" fill="none" stroke="#0B6527" stroke-width="0.5"/>
<circle cx="360.95" cy="67.05" r="3.1" fill="none" stroke="#0B6527" stroke-width="0.5"/>
<circle cx="362.85" cy="66.98" r="3.1" fill="none" stroke="#0B6527" stroke-width="0.5"/>
<circle cx="364.75" cy="66.79" r="3.1" fill="none" stroke="#0B6527" stroke-width="0.5"/>
<circle cx="366.65" cy="67.07" r="3.1" fill="none" stroke="#0B6527" stroke-width="0.5"/>
<circle cx="368.55" cy="67.59" r="3.1" fill="none" stroke="#0B6527" stroke-width="0.5"/>
<circle cx="370.45" cy="67.50" r="3.1" fill="none" stroke="#0B6527" stroke-width="0.5"/>
<circle cx="372.35" cy="67.84" r="3.1" fill="none" stroke="#0B6527" stroke-width="0.5"/>
<circle cx="374.25" cy="68.58" r="3.1" fill="none" stroke="#0B6527" stroke-width="0.5"/>
<circle cx="376.15" cy="67.94" r="3.1" fill="none" stroke="#0B6527" stroke-width="0.5"/>
<circle cx="378.05" cy="68.84" r="3.1" fill="none" stroke="#0B6527" stroke-width="0.5"/>
<circle cx="379.95" cy="69.30" r="3.1" fill="none" stroke="#0B6527" stroke-width="0.5"/>
<circle cx="381.85" cy="69.05" r="3.1" fill="none" stroke="#0B6527" stroke-width="0.5"/>
<circle cx="383.75" cy="69.20" r="3.1" fill="none" stroke="#0B6527" stroke-width="0.5"/>
<circle cx="385.65" cy="70.16" r="3.1" fill="none" stroke="#0B6527" stroke-width="0.5"/>
<circle cx="387.55" cy="69.78" r="3.1" fill="none" stroke="#0B6527" stroke-width="0.5"/>
<circle cx="389.45" cy="70.01" r="3.1" fill="none" stroke="#0B6527" stroke-width="0.5"/>
<circle cx="391.35" cy="70.60" r="3.1" fill="none" stroke="#0B6527" stroke-width="0.5"/>
<circle cx="393.25" cy="71.20" r="3.1" fill="none" stroke="#0B6527" stroke-width="0.5"/>
<circle cx="395.15" cy="70.78" r="3.1" fill="none" stroke="#0B6527" stroke-width="0.5"/>
<circle cx="397.05" cy="71.33" r="3.1" fill="none" stroke="#0B6527" stroke-width="0.5"/>
<circle cx="398.95" cy="71.64" r="3.1" fill="none" stroke="#0B6527" stroke-width="0.5"/>
<circle cx="400.85" cy="72.60" r="3.1" fill="none" stroke="#0B6527" stroke-width="0.5"/>
<circle cx="402.75" cy="72.57" r="3.1" fill="none" stroke="#0B6527" stroke-width="0.5"/>
<circle cx="404.65" cy="73.51" r="3.1" fill="none" stroke="#0B6527" stroke-width="0.5"/>
<circle cx="406.55" cy="73.13" r="3.1" fill="none" stroke="#0B6527" stroke-width="0.5"/>
<circle cx="408.45" cy="73.77" r="3.1" fill="none" stroke="#0B6527" stroke-width="0.5"/>
<circle cx="410.35" cy="74.59" r="3.1" fill="none" stroke="#0B6527" stroke-width="0.5"/>
<circle cx="412.25" cy="75.32" r="3.1" fill="none" stroke="#0B6527" stroke-width="0.5"/>
<circle cx="414.15" cy="75.24" r="3.1" fill="none" stroke="#0B6527" stroke-width="0.5"/>
<circle cx="416.05" cy="75.66" r="3.1" fill="none" stroke="#0B6527" stroke-width="0.5"/>
<circle cx="417.95" cy="76.42" r="3.1" fill="none" stroke="#0B6527" stroke-width="0.5"/>
<circle cx="419.85" cy="77.80" r="3.1" fill="none" stroke="#0B6527" stroke-width="0.5"/>
<circle cx="421.75" cy="78.28" r="3.1" fill="none" stroke="#0B6527" stroke-width="0.5"/>
<circle cx="423.65" cy="79.90" r="3.1" fill="none" stroke="#0B6527" stroke-width="0.5"/>
<circle cx="425.55" cy="80.81" r="3.1" fill="none" stroke="#0B6527" stroke-width="0.5"/>
<circle cx="280.80" cy="147.16" r="3.2" fill="#42E6F8"/>
<circle cx="284.00" cy="146.85" r="3.2" fill="#42E6F8"/>
<circle cx="291.25" cy="146.44" r="3.2" fill="#42E6F8"/>
<circle cx="296.80" cy="146.94" r="3.2" fill="#42E6F8"/>
<circle cx="301.60" cy="147.47" r="3.2" fill="#42E6F8"/>
<circle cx="306.00" cy="147.28" r="3.2" fill="#42E6F8"/>
<circle cx="310.00" cy="147.26" r="3.2" fill="#42E6F8"/>
<circle cx="313.80" cy="147.50" r="3.2" fill="#42E6F8"/>
<circle cx="317.40" cy="147.96" r="3.2" fill="#42E6F8"/>
<circle cx="320.80" cy="147.71" r="3.2" fill="#42E6F8"/>
<circle cx="324.00" cy="147.86" r="3.2" fill="#42E6F8"/>
<circle cx="327.00" cy="148.15" r="3.2" fill="#42E6F8"/>
<circle cx="330.00" cy="148.46" r="3.2" fill="#42E6F8"/>
<circle cx="333.00" cy="148.76" r="3.2" fill="#42E6F8"/>
<circle cx="335.88" cy="149.42" r="3.2" fill="#42E6F8"/>
<circle cx="338.64" cy="149.17" r="3.2" fill="#42E6F8"/>
<circle cx="341.30" cy="149.34" r="3.2" fill="#42E6F8"/>
<circle cx="343.85" cy="150.26" r="3.2" fill="#42E6F8"/>
<circle cx="346.29" cy="150.47" r="3.2" fill="#42E6F8"/>
<circle cx="348.64" cy="150.78" r="3.2" fill="#42E6F8"/>
<circle cx="350.90" cy="150.63" r="3.2" fill="#42E6F8"/>
<circle cx="353.06" cy="151.21" r="3.2" fill="#42E6F8"/>
<circle cx="355.14" cy="151.42" r="3.2" fill="#42E6F8"/>
<circle cx="357.13" cy="151.18" r="3.2" fill="#42E6F8"/>
<circle cx="359.05" cy="151.79" r="3.2" fill="#42E6F8"/>
<circle cx="360.95" cy="152.10" r="3.2" fill="#42E6F8"/>
<circle cx="362.85" cy="151.98" r="3.2" fill="#42E6F8"/>
<circle cx="364.75" cy="151.57" r="3.2" fill="#42E6F8"/>
<circle cx="366.65" cy="151.10" r="3.2" fill="#42E6F8"/>
<circle cx="368.55" cy="150.83" r="3.2" fill="#42E6F8"/>
<circle cx="370.45" cy="150.44" r="3.2" fill="#42E6F8"/>
<circle cx="372.35" cy="150.03" r="3.2" fill="#42E6F8"/>
<circle cx="374.25" cy="150.08" r="3.2" fill="#42E6F8"/>
<circle cx="376.15" cy="149.30" r="3.2" fill="#42E6F8"/>
<circle cx="378.05" cy="148.93" r="3.2" fill="#42E6F8"/>
<circle cx="379.95" cy="147.65" r="3.2" fill="#42E6F8"/>
<circle cx="381.85" cy="147.51" r="3.2" fill="#42E6F8"/>
<circle cx="383.75" cy="146.62" r="3.2" fill="#42E6F8"/>
<circle cx="385.65" cy="145.99" r="3.2" fill="#42E6F8"/>
<circle cx="387.55" cy="145.09" r="3.2" fill="#42E6F8"/>
<circle cx="389.45" cy="144.20" r="3.2" fill="#42E6F8"/>
<circle cx="391.35" cy="143.09" r="3.2" fill="#42E6F8"/>
<circle cx="393.25" cy="141.81" r="3.2" fill="#42E6F8"/>
<circle cx="395.15" cy="141.44" r="3.2" fill="#42E6F8"/>
<circle cx="397.05" cy="140.15" r="3.2" fill="#42E6F8"/>
<circle cx="398.95" cy="139.35" r="3.2" fill="#42E6F8"/>
<circle cx="400.85" cy="138.86" r="3.2" fill="#42E6F8"/>
<circle cx="402.75" cy="138.19" r="3.2" fill="#42E6F8"/>
<circle cx="404.65" cy="137.55" r="3.2" fill="#42E6F8"/>
<circle cx="406.55" cy="137.34" r="3.2" fill="#42E6F8"/>
<circle cx="408.45" cy="136.54" r="3.2" fill="#42E6F8"/>
<circle cx="410.35" cy="135.78" r="3.2" fill="#42E6F8"/>
<circle cx="412.25" cy="135.15" r="3.2" fill="#42E6F8"/>
<circle cx="414.15" cy="135.01" r="3.2" fill="#42E6F8"/>
<circle cx="416.05" cy="134.18" r="3.2" fill="#42E6F8"/>
<circle cx="417.95" cy="133.84" r="3.2" fill="#42E6F8"/>
<circle cx="419.85" cy="132.98" r="3.2" fill="#42E6F8"/>
<circle cx="421.75" cy="132.32" r="3.2" fill="#42E6F8"/>
<circle cx="423.65" cy="132.00" r="3.2" fill="#42E6F8"/>
<circle cx="425.55" cy="131.65" r="3.2" fill="#42E6F8"/>
<circle cx="280.60" cy="157.80" r="3.1" fill="#009EEC"/>
<circle cx="283.75" cy="157.84" r="3.1" fill="#009EEC"/>
<circle cx="291.25" cy="157.17" r="3.1" fill="#009EEC"/>
<circle cx="297.50" cy="157.52" r="3.1" fill="#009EEC"/>
<circle cx="302.00" cy="157.69" r="3.1" fill="#009EEC"/>
<circle cx="306.00" cy="157.18" r="3.1" fill="#009EEC"/>
<circle cx="310.00" cy="157.54" r="3.1" fill="#009EEC"/>
<circle cx="313.50" cy="157.66" r="3.1" fill="#009EEC"/>
<circle cx="317.00" cy="157.16" r="3.1" fill="#009EEC"/>
<circle cx="320.50" cy="157.28" r="3.1" fill="#009EEC"/>
<circle cx="324.00" cy="157.27" r="3.1" fill="#009EEC"/>
<circle cx="327.00" cy="157.62" r="3.1" fill="#009EEC"/>
<circle cx="330.00" cy="157.87" r="3.1" fill="#009EEC"/>
<circle cx="333.00" cy="158.21" r="3.1" fill="#009EEC"/>
<circle cx="335.88" cy="158.69" r="3.1" fill="#009EEC"/>
<circle cx="338.64" cy="158.51" r="3.1" fill="#009EEC"/>
<circle cx="341.30" cy="158.82" r="3.1" fill="#009EEC"/>
<circle cx="343.85" cy="159.12" r="3.1" fill="#009EEC"/>
<circle cx="346.29" cy="159.38" r="3.1" fill="#009EEC"/>
<circle cx="348.64" cy="159.58" r="3.1" fill="#009EEC"/>
<circle cx="350.90" cy="160.36" r="3.1" fill="#009EEC"/>
<circle cx="353.06" cy="160.51" r="3.1" fill="#009EEC"/>
<circle cx="355.14" cy="160.27" r="3.1" fill="#009EEC"/>
<circle cx="357.13" cy="160.81" r="3.1" fill="#009EEC"/>
<circle cx="359.05" cy="160.98" r="3.1" fill="#009EEC"/>
<circle cx="360.95" cy="161.26" r="3.1" fill="#009EEC"/>
<circle cx="362.85" cy="161.56" r="3.1" fill="#009EEC"/>
<circle cx="364.75" cy="162.01" r="3.1" fill="#009EEC"/>
<circle cx="366.65" cy="162.25" r="3.1" fill="#009EEC"/>
<circle cx="368.55" cy="162.19" r="3.1" fill="#009EEC"/>
<circle cx="370.45" cy="161.67" r="3.1" fill="#009EEC"/>
<circle cx="372.35" cy="161.33" r="3.1" fill="#009EEC"/>
<circle cx="374.25" cy="160.78" r="3.1" fill="#009EEC"/>
<circle cx="376.15" cy="160.61" r="3.1" fill="#009EEC"/>
<circle cx="378.05" cy="160.28" r="3.1" fill="#009EEC"/>
<circle cx="379.95" cy="159.66" r="3.1" fill="#009EEC"/>
<circle cx="381.85" cy="159.05" r="3.1" fill="#009EEC"/>
<circle cx="383.75" cy="158.69" r="3.1" fill="#009EEC"/>
<circle cx="385.65" cy="158.22" r="3.1" fill="#009EEC"/>
<circle cx="387.55" cy="157.45" r="3.1" fill="#009EEC"/>
<circle cx="389.45" cy="156.66" r="3.1" fill="#009EEC"/>
<circle cx="391.35" cy="155.51" r="3.1" fill="#009EEC"/>
<circle cx="393.25" cy="154.85" r="3.1" fill="#009EEC"/>
<circle cx="395.15" cy="153.71" r="3.1" fill="#009EEC"/>
<circle cx="397.05" cy="152.56" r="3.1" fill="#009EEC"/>
<circle cx="398.95" cy="151.50" r="3.1" fill="#009EEC"/>
<circle cx="400.85" cy="150.59" r="3.1" fill="#009EEC"/>
<circle cx="402.75" cy="149.80" r="3.1" fill="#009EEC"/>
<circle cx="404.65" cy="148.72" r="3.1" fill="#009EEC"/>
<circle cx="406.55" cy="147.97" r="3.1" fill="#009EEC"/>
<circle cx="408.45" cy="146.92" r="3.1" fill="#009EEC"/>
<circle cx="410.35" cy="145.91" r="3.1" fill="#009EEC"/>
<circle cx="412.25" cy="145.32" r="3.1" fill="#009EEC"/>
<circle cx="414.15" cy="144.66" r="3.1" fill="#009EEC"/>
<circle cx="416.05" cy="143.52" r="3.1" fill="#009EEC"/>
<circle cx="417.95" cy="142.98" r="3.1" fill="#009EEC"/>
<circle cx="419.85" cy="142.22" r="3.1" fill="#009EEC"/>
<circle cx="421.75" cy="142.08" r="3.1" fill="#009EEC"/>
<circle cx="423.65" cy="141.73" r="3.1" fill="#009EEC"/>
<circle cx="425.55" cy="141.02" r="3.1" fill="#009EEC"/>
<circle cx="280.60" cy="158.48" r="3.1" fill="none" stroke="#0000D0" stroke-width="0.65"/>
<circle cx="283.75" cy="157.38" r="3.1" fill="none" stroke="#0000D0" stroke-width="0.65"/>
<circle cx="291.25" cy="156.47" r="3.1" fill="none" stroke="#0000D0" stroke-width="0.65"/>
<circle cx="297.50" cy="157.60" r="3.1" fill="none" stroke="#0000D0" stroke-width="0.65"/>
<circle cx="302.00" cy="157.94" r="3.1" fill="none" stroke="#0000D0" stroke-width="0.65"/>
<circle cx="306.00" cy="157.86" r="3.1" fill="none" stroke="#0000D0" stroke-width="0.65"/>
<circle cx="310.00" cy="157.08" r="3.1" fill="none" stroke="#0000D0" stroke-width="0.65"/>
<circle cx="313.50" cy="156.95" r="3.1" fill="none" stroke="#0000D0" stroke-width="0.65"/>
<circle cx="317.00" cy="157.86" r="3.1" fill="none" stroke="#0000D0" stroke-width="0.65"/>
<circle cx="320.50" cy="157.03" r="3.1" fill="none" stroke="#0000D0" stroke-width="0.65"/>
<circle cx="324.00" cy="157.96" r="3.1" fill="none" stroke="#0000D0" stroke-width="0.65"/>
<circle cx="327.00" cy="157.13" r="3.1" fill="none" stroke="#0000D0" stroke-width="0.65"/>
<circle cx="330.00" cy="157.56" r="3.1" fill="none" stroke="#0000D0" stroke-width="0.65"/>
<circle cx="333.00" cy="158.53" r="3.1" fill="none" stroke="#0000D0" stroke-width="0.65"/>
<circle cx="335.88" cy="159.17" r="3.1" fill="none" stroke="#0000D0" stroke-width="0.65"/>
<circle cx="338.64" cy="159.27" r="3.1" fill="none" stroke="#0000D0" stroke-width="0.65"/>
<circle cx="341.30" cy="159.51" r="3.1" fill="none" stroke="#0000D0" stroke-width="0.65"/>
<circle cx="343.85" cy="159.71" r="3.1" fill="none" stroke="#0000D0" stroke-width="0.65"/>
<circle cx="346.29" cy="160.00" r="3.1" fill="none" stroke="#0000D0" stroke-width="0.65"/>
<circle cx="348.64" cy="159.42" r="3.1" fill="none" stroke="#0000D0" stroke-width="0.65"/>
<circle cx="350.90" cy="160.25" r="3.1" fill="none" stroke="#0000D0" stroke-width="0.65"/>
<circle cx="353.06" cy="160.09" r="3.1" fill="none" stroke="#0000D0" stroke-width="0.65"/>
<circle cx="355.14" cy="160.32" r="3.1" fill="none" stroke="#0000D0" stroke-width="0.65"/>
<circle cx="357.13" cy="161.22" r="3.1" fill="none" stroke="#0000D0" stroke-width="0.65"/>
<circle cx="359.05" cy="161.03" r="3.1" fill="none" stroke="#0000D0" stroke-width="0.65"/>
<circle cx="360.95" cy="161.29" r="3.1" fill="none" stroke="#0000D0" stroke-width="0.65"/>
<circle cx="362.85" cy="161.25" r="3.1" fill="none" stroke="#0000D0" stroke-width="0.65"/>
<circle cx="364.75" cy="162.59" r="3.1" fill="none" stroke="#0000D0" stroke-width="0.65"/>
<circle cx="366.65" cy="162.60" r="3.1" fill="none" stroke="#0000D0" stroke-width="0.65"/>
<circle cx="368.55" cy="162.61" r="3.1" fill="none" stroke="#0000D0" stroke-width="0.65"/>
<circle cx="370.45" cy="162.18" r="3.1" fill="none" stroke="#0000D0" stroke-width="0.65"/>
<circle cx="372.35" cy="161.53" r="3.1" fill="none" stroke="#0000D0" stroke-width="0.65"/>
<circle cx="374.25" cy="161.62" r="3.1" fill="none" stroke="#0000D0" stroke-width="0.65"/>
<circle cx="376.15" cy="160.24" r="3.1" fill="none" stroke="#0000D0" stroke-width="0.65"/>
<circle cx="378.05" cy="160.81" r="3.1" fill="none" stroke="#0000D0" stroke-width="0.65"/>
<circle cx="379.95" cy="159.83" r="3.1" fill="none" stroke="#0000D0" stroke-width="0.65"/>
<circle cx="381.85" cy="159.11" r="3.1" fill="none" stroke="#0000D0" stroke-width="0.65"/>
<circle cx="383.75" cy="158.71" r="3.1" fill="none" stroke="#0000D0" stroke-width="0.65"/>
<circle cx="385.65" cy="158.27" r="3.1" fill="none" stroke="#0000D0" stroke-width="0.65"/>
<circle cx="387.55" cy="157.82" r="3.1" fill="none" stroke="#0000D0" stroke-width="0.65"/>
<circle cx="389.45" cy="156.44" r="3.1" fill="none" stroke="#0000D0" stroke-width="0.65"/>
<circle cx="391.35" cy="155.68" r="3.1" fill="none" stroke="#0000D0" stroke-width="0.65"/>
<circle cx="393.25" cy="154.46" r="3.1" fill="none" stroke="#0000D0" stroke-width="0.65"/>
<circle cx="395.15" cy="153.25" r="3.1" fill="none" stroke="#0000D0" stroke-width="0.65"/>
<circle cx="397.05" cy="152.16" r="3.1" fill="none" stroke="#0000D0" stroke-width="0.65"/>
<circle cx="398.95" cy="151.40" r="3.1" fill="none" stroke="#0000D0" stroke-width="0.65"/>
<circle cx="400.85" cy="151.10" r="3.1" fill="none" stroke="#0000D0" stroke-width="0.65"/>
<circle cx="402.75" cy="151.12" r="3.1" fill="none" stroke="#0000D0" stroke-width="0.65"/>
<circle cx="404.65" cy="149.58" r="3.1" fill="none" stroke="#0000D0" stroke-width="0.65"/>
<circle cx="406.55" cy="148.62" r="3.1" fill="none" stroke="#0000D0" stroke-width="0.65"/>
<circle cx="408.45" cy="146.70" r="3.1" fill="none" stroke="#0000D0" stroke-width="0.65"/>
<circle cx="410.35" cy="147.14" r="3.1" fill="none" stroke="#0000D0" stroke-width="0.65"/>
<circle cx="412.25" cy="145.74" r="3.1" fill="none" stroke="#0000D0" stroke-width="0.65"/>
<circle cx="414.15" cy="144.30" r="3.1" fill="none" stroke="#0000D0" stroke-width="0.65"/>
<circle cx="416.05" cy="146.03" r="3.1" fill="none" stroke="#0000D0" stroke-width="0.65"/>
<circle cx="417.95" cy="144.33" r="3.1" fill="none" stroke="#0000D0" stroke-width="0.65"/>
<circle cx="419.85" cy="142.90" r="3.1" fill="none" stroke="#0000D0" stroke-width="0.65"/>
<circle cx="421.75" cy="143.87" r="3.1" fill="none" stroke="#0000D0" stroke-width="0.65"/>
<circle cx="423.65" cy="144.00" r="3.1" fill="none" stroke="#0000D0" stroke-width="0.65"/>
<circle cx="425.55" cy="144.24" r="3.1" fill="none" stroke="#0000D0" stroke-width="0.65"/>
<text x="248" y="28" font-size="15" fill="#000" xml:space="preserve"><tspan font-style="italic">&#956;</tspan><tspan dy="8.4" dx="-0.3" font-size="10.35">0</tspan><tspan dy="-8.4" dx="-0.5" font-size="1">&#8203;</tspan><tspan font-style="italic">H</tspan><tspan> = 0.01 T FC</tspan></text>
<text x="402.5" y="28" font-size="15" fill="#000" text-anchor="start" >(c)</text>
<text x="278.5" y="53.8" font-size="15" fill="#0B6527" xml:space="preserve"><tspan>FeGa</tspan><tspan dy="8.4" dx="-0.3" font-size="10.35">2</tspan><tspan dy="-8.4" dx="-0.5" font-size="1">&#8203;</tspan><tspan>S</tspan><tspan dy="8.4" dx="-0.3" font-size="10.35">4</tspan><tspan dy="-8.4" dx="-0.5" font-size="1">&#8203;</tspan></text>
<text x="340" y="54.5" font-size="14.95" fill="#FF8C1A" xml:space="preserve"><tspan>Mn: </tspan><tspan font-style="italic">x</tspan><tspan> = 0.09</tspan></text>
<text x="246" y="106" font-size="14.6" fill="#DD7AD9" xml:space="preserve"><tspan>Zn: </tspan><tspan font-style="italic">x</tspan><tspan> = 0.11</tspan></text>
<text x="359.4" y="122.3" font-size="15" fill="#E0102A" xml:space="preserve"><tspan>NiGa</tspan><tspan dy="8.4" dx="-0.3" font-size="10.35">2</tspan><tspan dy="-8.4" dx="-0.5" font-size="1">&#8203;</tspan><tspan>S</tspan><tspan dy="8.4" dx="-0.3" font-size="10.35">4</tspan><tspan dy="-8.4" dx="-0.5" font-size="1">&#8203;</tspan></text>
<text x="245.2" y="139" font-size="14.7" fill="#42E6F8" xml:space="preserve"><tspan>Co: </tspan><tspan font-style="italic">x</tspan><tspan> = 0.21</tspan></text>
<text x="245.2" y="175.8" font-size="15.05" fill="#009EEC" xml:space="preserve"><tspan>Co: </tspan><tspan font-style="italic">x</tspan><tspan> = 0.32</tspan></text>
<text x="245.2" y="192.5" font-size="15.05" fill="#0000D0" xml:space="preserve"><tspan>Co: </tspan><tspan font-style="italic">x</tspan><tspan> = 0.50</tspan></text>
</svg>
</body></html>
